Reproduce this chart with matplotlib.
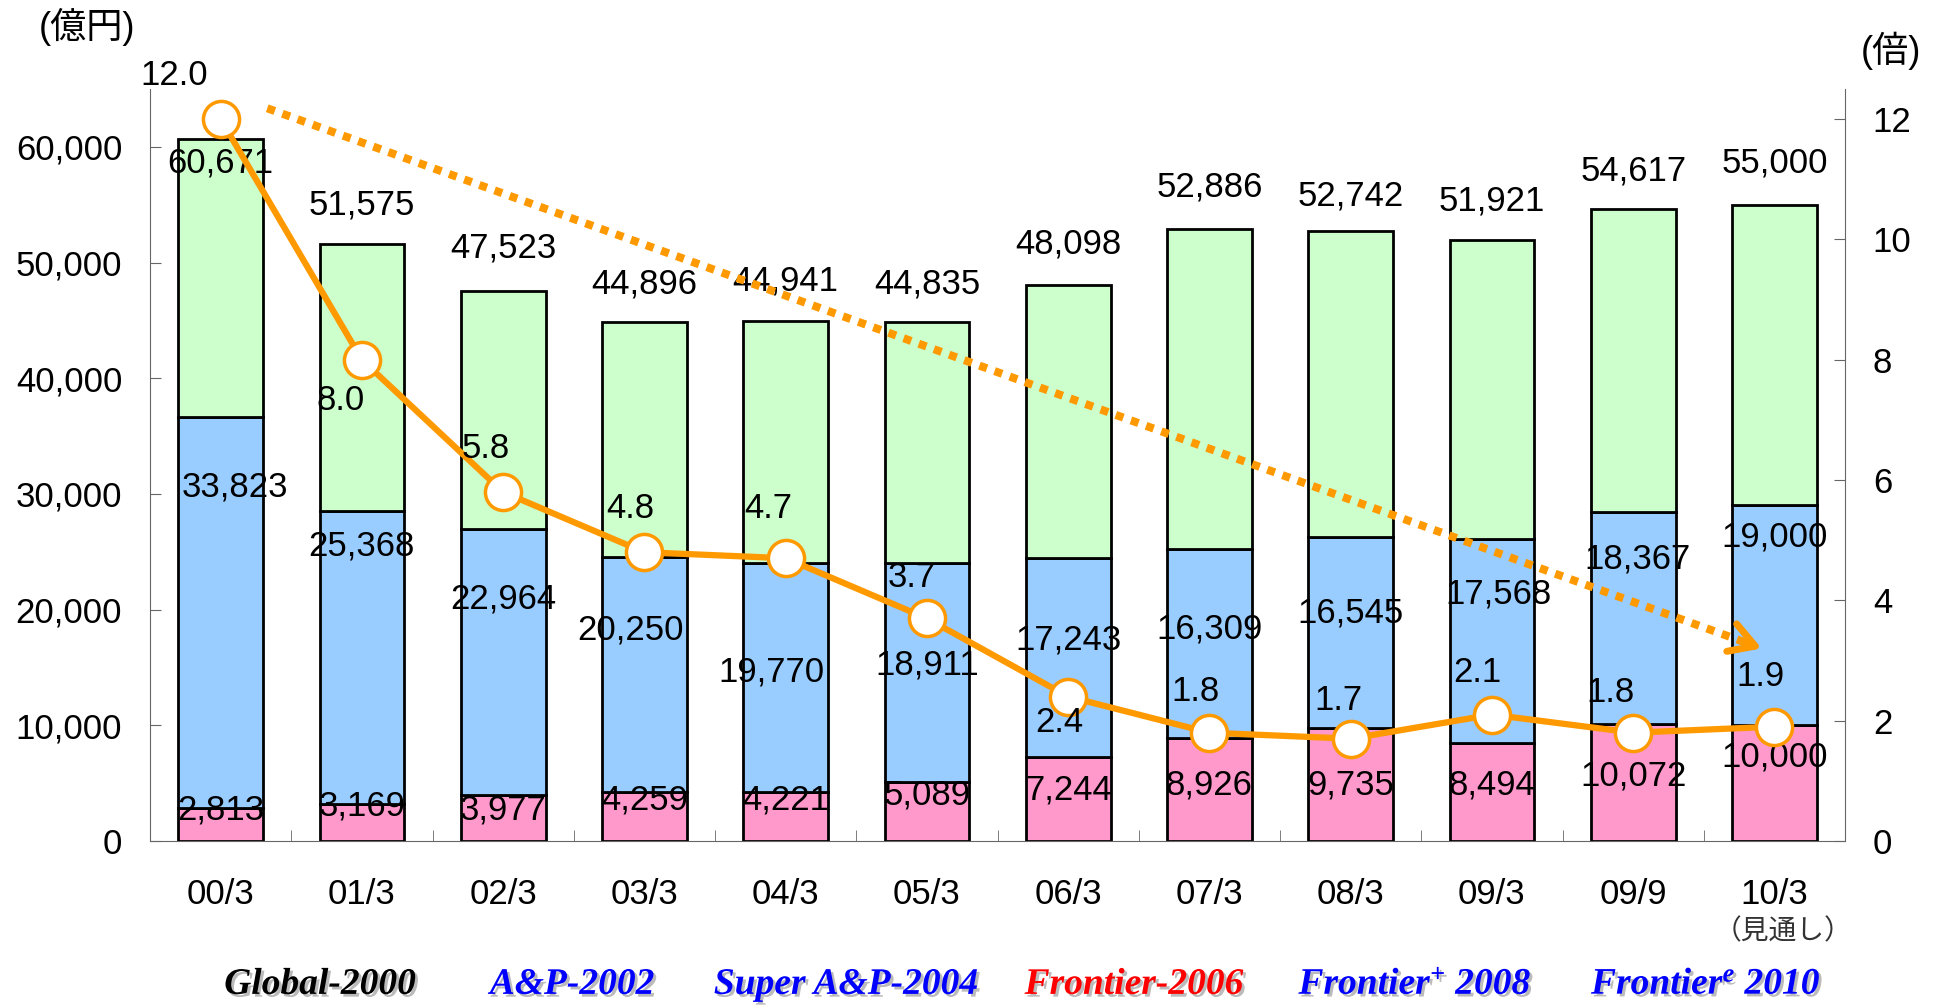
import numpy as np
import matplotlib.pyplot as plt
import matplotlib.patheffects as pe
from matplotlib.transforms import blended_transform_factory

plt.rcParams['font.family'] = ['Liberation Sans', 'Noto Sans CJK JP', 'DejaVu Sans']
plt.rcParams['mathtext.fontset'] = 'custom'
plt.rcParams['mathtext.rm'] = 'Liberation Serif:italic:bold'
plt.rcParams['mathtext.it'] = 'Liberation Serif:italic:bold'

# data
periods = ['00/3', '01/3', '02/3', '03/3', '04/3', '05/3',
           '06/3', '07/3', '08/3', '09/3', '09/9', '10/3']
totals = [60671, 51575, 47523, 44896, 44941, 44835, 48098, 52886, 52742, 51921, 54617, 55000]
pink = [2813, 3169, 3977, 4259, 4221, 5089, 7244, 8926, 9735, 8494, 10072, 10000]
blue = [33823, 25368, 22964, 20250, 19770, 18911, 17243, 16309, 16545, 17568, 18367, 19000]
ratio = [12.0, 8.0, 5.8, 4.8, 4.7, 3.7, 2.4, 1.8, 1.7, 2.1, 1.8, 1.9]
programs = ['Global-2000', 'A&P-2002', 'Super A&P-2004', 'Frontier-2006',
            r'Frontier$^{+}$ 2008', r'Frontier$^{e}$ 2010']
program_colors = ['black', '#0000FF', '#0000FF', '#FF0000', '#0000FF', '#0000FF']

# where the labels sit (hand placed like in the original)
total_label_y = [58580, 54940, 51290, 48180, 48390, 48180, 51610, 56540, 55790, 55360, 57940, 58580]
blue_label_y = [30580, 25540, 20920, 18240, 14590, 15240, 17380, 18350, 19740, 21350, 24360, 26290]
blue_label_dx = [0.1, 0, 0, -0.1, -0.1, 0, 0, 0, 0, 0.05, 0.03, 0]
pink_label_y = [2680, 3000, 2680, 3540, 3540, 3970, 4400, 4830, 4830, 4830, 5580, 7300]
ratio_label_y = [12.73, 7.32, 6.52, 5.53, 5.53, 4.38, 1.97, 2.49, 2.34, 2.80, 2.47, 2.73]
ratio_label_dx = [-0.33, -0.15, -0.12, -0.1, -0.12, -0.11, -0.06, -0.1, -0.09, -0.1, -0.16, -0.1]
trend_start = (0.33, 12.18)
trend_end = (10.91, 3.2)
program_x = [0.1647, 0.2944, 0.4354, 0.5836, 0.7283, 0.8780]

GREEN = '#CCFFCC'
BLUE = '#99CCFF'
PINK = '#FF99CC'
ORANGE = '#FF9900'
AXC = '#666666'
FS = 25

x = np.arange(len(periods))
green = np.array(totals) - np.array(pink) - np.array(blue)

fig = plt.figure(figsize=(19.43, 10.08), dpi=100)
ax = fig.add_axes([0.0772, 0.1657, 0.8724, 0.746])

w = 0.6
ax.bar(x, pink, w, color=PINK, edgecolor='black', lw=2, zorder=2)
ax.bar(x, blue, w, bottom=pink, color=BLUE, edgecolor='black', lw=2, zorder=2)
ax.bar(x, green, w, bottom=np.add(pink, blue), color=GREEN, edgecolor='black', lw=2, zorder=2)

ax.set_xlim(-0.5, 11.5)
ax.set_ylim(0, 65000)
ax.set_yticks(range(0, 60001, 10000))
ax.set_yticklabels([f'{v:,}' for v in range(0, 60001, 10000)])
ax.set_xticks(x)
ax.set_xticklabels(periods)
ax.set_xticks(x[:-1] + 0.5, minor=True)
ax.tick_params(axis='y', direction='in', length=8, pad=20, labelsize=FS, color=AXC)
ax.tick_params(axis='x', which='major', length=0, pad=27, labelsize=FS)
ax.tick_params(axis='x', which='minor', direction='in', length=8, color=AXC)
for s in ['top', 'right']:
    ax.spines[s].set_visible(False)
for s in ['left', 'bottom']:
    ax.spines[s].set_color(AXC)

# bar labels
for i in x:
    ax.text(i, total_label_y[i], f'{totals[i]:,}', ha='center', va='center', fontsize=FS, zorder=3)
    ax.text(i + blue_label_dx[i], blue_label_y[i], f'{blue[i]:,}', ha='center', va='center', fontsize=FS, zorder=3)
    ax.text(i, pink_label_y[i], f'{pink[i]:,}', ha='center', va='center', fontsize=FS, zorder=3)

# ratio axis
ax2 = ax.twinx()
ax2.set_ylim(0, 12.5)
ax2.set_yticks(range(0, 13, 2))
ax2.tick_params(axis='y', direction='in', length=8, pad=20, labelsize=FS, color=AXC)
for s in ['top', 'left', 'bottom']:
    ax2.spines[s].set_visible(False)
ax2.spines['right'].set_color(AXC)

ax2.plot([trend_start[0], trend_end[0] - 0.05], [trend_start[1], trend_end[1] + 0.045],
         color=ORANGE, lw=5.8, ls=(0, (1, 1)), dash_capstyle='butt', zorder=2)
slope = (trend_end[1] - trend_start[1]) / (trend_end[0] - trend_start[0])
ax2.annotate('', xy=trend_end, xytext=(trend_end[0] - 0.15, trend_end[1] - 0.15 * slope),
             arrowprops=dict(arrowstyle='->,head_length=0.6,head_width=0.35', color=ORANGE,
                             lw=5, mutation_scale=30, shrinkA=0, shrinkB=0))

ax2.plot(x, ratio, color=ORANGE, lw=4.5, marker='o', ms=26, mfc='white',
         mec=ORANGE, mew=2.5, zorder=3)
for i in x:
    ax2.text(i + ratio_label_dx[i], ratio_label_y[i], f'{ratio[i]:.1f}', ha='center', va='center',
             fontsize=FS, zorder=4)

# units and notes
fig.text(0.0448, 0.973, '(億円)', ha='center', va='center', fontsize=26)
fig.text(0.973, 0.950, '(倍)', ha='center', va='center', fontsize=26)
tr = blended_transform_factory(ax.transData, fig.transFigure)
ax.text(11.06, 0.0754, '（見通し）', transform=tr, ha='center', va='center', fontsize=20, color='#333333')

shadow = [pe.SimplePatchShadow(offset=(2, -2), shadow_rgbFace='#aaaaaa', alpha=0.8), pe.Normal()]
for px, name, c in zip(program_x, programs, program_colors):
    fig.text(px, 0.014, name, ha='center', va='baseline', fontsize=27, color=c,
             family='Liberation Serif', weight='bold', style='italic', path_effects=shadow)

fig.savefig('out.png', dpi=100)
